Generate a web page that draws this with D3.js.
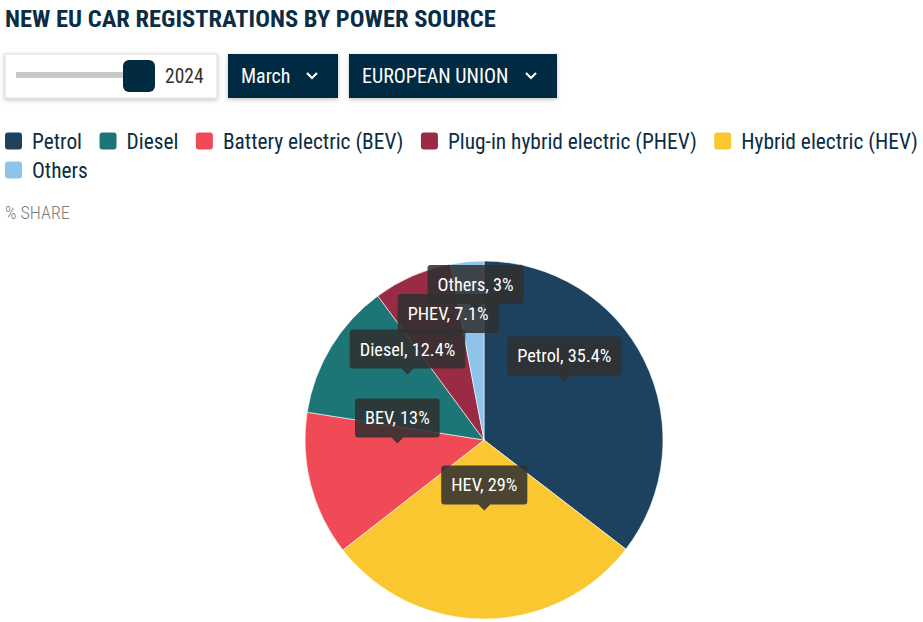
<!DOCTYPE html>
<html>
<head>
    <title>New EU car registrations by power source</title>
    <script src="https://d3js.org/d3.v7.min.js"></script>
    <style>
        body { margin: 0; background: #fff; }
        svg text { font-family: "Roboto Condensed", Roboto, sans-serif; }
    </style>
</head>
<body>
<svg id="chart" width="923" height="622"></svg>
<script>
// data (March 2024, European Union)
const sources = ["Petrol", "Diesel", "Battery electric (BEV)", "Plug-in hybrid electric (PHEV)", "Hybrid electric (HEV)", "Others"];
const colors = ["#1c4260", "#1d7675", "#ef4a56", "#992c44", "#fac731", "#8fc4ea"];
// pie order as drawn, clockwise from 12 o'clock
const sliceNames = ["Petrol", "HEV", "BEV", "Diesel", "PHEV", "Others"];
const sliceValues = [35.4, 29, 13, 12.4, 7.1, 3];
const sliceColors = ["#1c4260", "#fac731", "#ef4a56", "#1d7675", "#992c44", "#8fc4ea"];

const svg = d3.select("#chart");
const navy = "#0b2d44";

// shadow for the controls
const defs = svg.append("defs");
const f = defs.append("filter").attr("id", "shadow").attr("x", "-10%").attr("y", "-20%").attr("width", "120%").attr("height", "150%");
f.append("feDropShadow").attr("dx", 0).attr("dy", 1.5).attr("stdDeviation", 2).attr("flood-color", "#000").attr("flood-opacity", 0.25);

// title
svg.append("text")
    .attr("x", 5).attr("y", 27)
    .attr("fill", navy)
    .style("font-size", "24.5px").style("font-weight", "bold")
    .text("NEW EU CAR REGISTRATIONS BY POWER SOURCE");

// year slider
svg.append("rect").attr("x", 5).attr("y", 54).attr("width", 212).attr("height", 44)
    .attr("fill", "#fff").attr("stroke", "#ddd").attr("filter", "url(#shadow)");
svg.append("rect").attr("x", 16).attr("y", 72).attr("width", 112).attr("height", 6).attr("fill", "#c9c9c9");
svg.append("rect").attr("x", 123).attr("y", 60).attr("width", 32).attr("height", 32).attr("rx", 6)
    .attr("fill", "#022b42");
svg.append("text").attr("x", 165).attr("y", 83).attr("fill", "#333")
    .style("font-size", "19.5px").text("2024");

// dropdowns
const buttons = [{ x: 228, w: 110, label: "March" }, { x: 349, w: 208, label: "EUROPEAN UNION" }];
buttons.forEach(b => {
    svg.append("rect").attr("x", b.x).attr("y", 54).attr("width", b.w).attr("height", 44)
        .attr("fill", "#022b42").attr("filter", "url(#shadow)");
    svg.append("text").attr("x", b.x + 13).attr("y", 83).attr("fill", "#fff")
        .style("font-size", "20px").text(b.label);
    const cx = b.x + b.w - 26;
    svg.append("path").attr("d", `M${cx - 5},${73} L${cx},${78} L${cx + 5},${73}`)
        .attr("fill", "none").attr("stroke", "#fff").attr("stroke-width", 2.2);
});

// legend, wraps at the chart width
const legend = svg.append("g");
let lx = 5, ly = 141;
sources.forEach((s, i) => {
    const g = legend.append("g");
    const t = g.append("text").attr("x", 0).attr("y", 7.5).attr("fill", navy)
        .style("font-size", "21.4px").text(s);
    const w = t.node().getComputedTextLength();
    if (lx + 27 + w > 923) { lx = 5; ly += 29; }
    g.attr("transform", `translate(${lx},${ly})`);
    t.attr("x", 27);
    g.insert("rect", "text").attr("x", 0).attr("y", -8.5).attr("width", 17).attr("height", 17).attr("rx", 3)
        .attr("fill", colors[i]);
    lx += 27 + w + 17.5;
});

svg.append("text").attr("x", 5).attr("y", 219).attr("fill", "#7a7a7a")
    .style("font-size", "18px").style("font-weight", 300).text("% SHARE");

// pie
const cx = 484, cy = 440, radius = 179;
const pie = d3.pie().sort(null).value(d => d);
const arcs = pie(sliceValues);
const arc = d3.arc().innerRadius(0).outerRadius(radius);
const labelArc = d3.arc().innerRadius(radius / 2).outerRadius(radius / 2);

const pieG = svg.append("g").attr("transform", `translate(${cx},${cy})`);
pieG.selectAll("path.slice")
    .data(arcs)
    .enter()
    .append("path")
    .attr("class", "slice")
    .attr("d", arc)
    .attr("fill", (d, i) => sliceColors[i])
    .attr("stroke", "#fff")
    .attr("stroke-width", 0.6);

// callout labels; later labels are pushed up when they collide
const boxH = 39, tipH = 6, minGap = 29;
const placed = [];
const labelG = pieG.append("g");
arcs.forEach((d, i) => {
    const [ax, ay] = labelArc.centroid(d);
    const g = labelG.append("g");
    const t = g.append("text").attr("text-anchor", "middle").attr("fill", "#fff")
        .style("font-size", "18.3px")
        .text(`${sliceNames[i]}, ${sliceValues[i]}%`);
    const w = t.node().getComputedTextLength() + 20;
    let boxCy = ay - 19 - tipH - boxH / 2;
    placed.forEach(p => {
        const overlapX = Math.abs(p.x - ax) < (p.w + w) / 2;
        if (overlapX && Math.abs(p.y - boxCy) < minGap) boxCy = p.y - minGap;
    });
    placed.push({ x: ax, y: boxCy, w: w });
    const top = boxCy - boxH / 2;
    const tipY = top + boxH + tipH;
    g.insert("path", "text")
        .attr("d", `M${ax - w / 2 + 3},${top} h${w - 6} a3,3 0 0 1 3,3 v${boxH - 6} a3,3 0 0 1 -3,3
                    H${ax + 6} L${ax},${tipY} L${ax - 6},${top + boxH} H${ax - w / 2 + 3} a3,3 0 0 1 -3,-3
                    v${-(boxH - 6)} a3,3 0 0 1 3,-3 Z`)
        .attr("fill", "rgba(48,48,48,0.87)");
    t.attr("x", ax).attr("y", boxCy + 6.5);
});
</script>
</body>
</html>
